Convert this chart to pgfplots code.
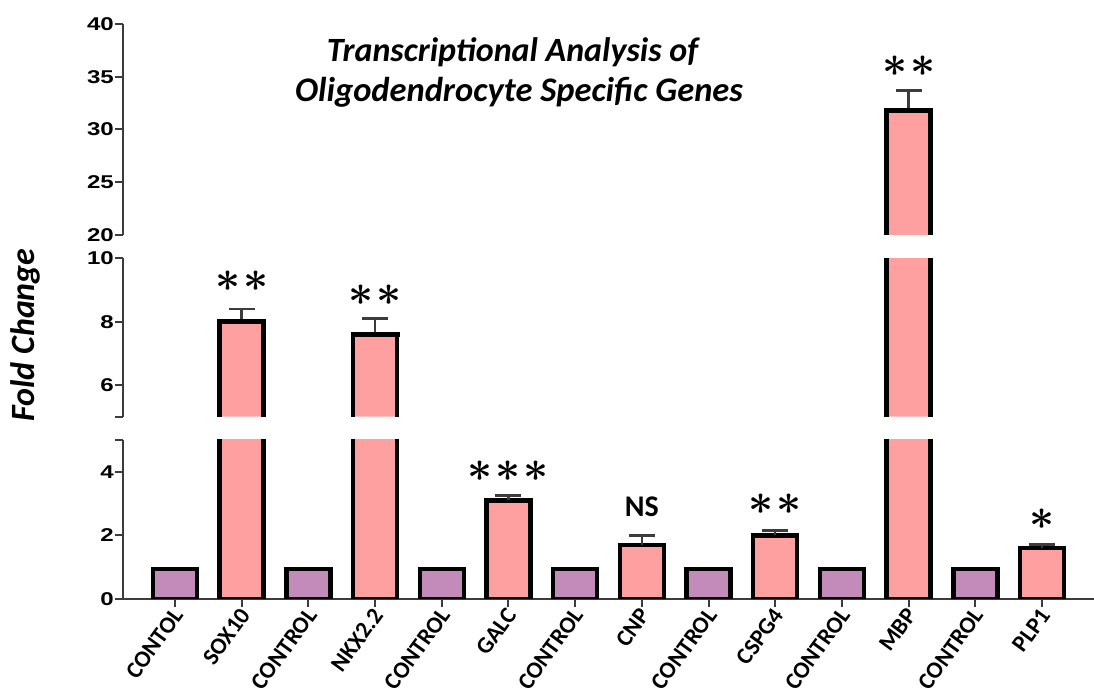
\documentclass[border=0pt]{standalone}
\usepackage{pgfplots}
\pgfplotsset{compat=1.18}
\usepackage{pgfplotstable}
\usepackage{fontspec}
\setmainfont{Carlito}
\newfontfamily\arialfont[FakeStretch=1.3]{Liberation Sans}
\definecolor{ctrl}{RGB}{195,139,186}
\definecolor{treat}{RGB}{255,160,160}
\definecolor{axgray}{RGB}{60,60,60}

\pgfplotstableread{
x val err
0 0.95 0
2 0.95 0
4 0.95 0
6 0.95 0
8 0.95 0
10 0.95 0
12 0.95 0
}\ctrldata
\pgfplotstableread{
x val err
1 8.0 0.4
3 7.6 0.5
5 3.1 0.15
7 1.7 0.3
9 2.0 0.15
11 31.8 1.9
13 1.6 0.12
}\treatdata

\pgfplotsset{
  seg/.style={
    scale only axis, width=971pt,
    xmin=-0.78, xmax=13.78,
    axis y line*=left,
    axis line style={-, axgray, line width=2pt},
    y tick style={axgray, line width=2pt},
    x tick style={axgray, line width=2pt},
    tick align=outside, major tick length=8pt,
    yticklabel style={font=\arialfont\bfseries\fontsize{18.5}{18.5}\selectfont, inner sep=1pt},
    /pgf/number format/assume math mode=true,
    anchor=south west,
  },
  fullbar/.style={ybar, bar width=44pt, bar shift=0pt, draw=black, line width=4.5pt, line join=miter},
  errs/.style={/pgfplots/error bars/y dir=plus, /pgfplots/error bars/y explicit,
    /pgfplots/error bars/error bar style={axgray, line width=2.5pt},
    /pgfplots/error bars/error mark options={axgray, line width=2.5pt, mark size=13pt, rotate=90}},
  side/.style={ycomb, black, line width=4.5pt, mark=none},
  topedge/.style={only marks, mark=-, mark size=24.5pt, mark options={black, line width=4.5pt}},
}
\newcommand{\myast}{\makebox[28pt]{\scalebox{1.75}{\fontsize{24.88}{24.88}\selectfont\boldmath$\ast$}}}

\begin{document}
\begin{tikzpicture}
\path[use as bounding box] (0,0) rectangle (1094pt,698pt);

% bottom segment 0-5
\begin{axis}[seg, at={(123pt,99pt)}, height=159pt, ymin=0, ymax=5,
  axis x line*=bottom,
  xtick={0,...,13},
  xticklabels={CONTOL,SOX10,CONTROL,NKX2.2,CONTROL,GALC,CONTROL,CNP,CONTROL,CSPG4,CONTROL,MBP,CONTROL,PLP1},
  xticklabel style={xshift=4pt, yshift=-3pt, rotate=54, anchor=east, font=\bfseries\fontsize{23.5}{23.5}\selectfont, inner sep=1pt},
  ytick={0,2,4,5}, yticklabels={0,2,4,{}},
  ]
\addplot[fullbar, fill=ctrl] table[x=x, y=val] {\ctrldata};
\addplot[fullbar, fill=treat, errs] table[x=x, y=val, y error=err] {\treatdata};
\node at (axis cs:5,4.03) {\myast\myast\myast};
\node[font=\bfseries\fontsize{30}{30}\selectfont] at (axis cs:7,2.89) {NS};
\node at (axis cs:9,2.99) {\myast\myast};
\node at (axis cs:13,2.52) {\myast};
\end{axis}

% middle segment 5-10
\begin{axis}[seg, at={(123pt,281.3pt)}, height=158.4pt, ymin=5, ymax=10,
  axis x line=none,
  ytick={5,6,8,10}, yticklabels={{},6,8,10},
  ]
\addplot[ybar, bar width=44pt, bar shift=0pt, fill=treat, draw=none,
  y filter/.expression={y>5 ? y : nan}] table[x=x, y=val] {\treatdata};
\addplot[side, xshift=-22pt, y filter/.expression={y>5 ? y : nan}] table[x=x, y=val] {\treatdata};
\addplot[side, xshift=22pt, y filter/.expression={y>5 ? y : nan}] table[x=x, y=val] {\treatdata};
\addplot[topedge, errs, y filter/.expression={(y>5 && y<10) ? y : nan}] table[x=x, y=val, y error=err] {\treatdata};
\node at (axis cs:1,9.28) {\myast\myast};
\node at (axis cs:3,8.84) {\myast\myast};
\end{axis}

% top segment 20-40
\begin{axis}[seg, at={(123pt,463pt)}, height=211pt, ymin=20, ymax=40,
  axis x line=none,
  ytick={20,25,30,35,40},
  ]
\addplot[ybar, bar width=44pt, bar shift=0pt, fill=treat, draw=none,
  y filter/.expression={y>20 ? y : nan}] table[x=x, y=val] {\treatdata};
\addplot[side, xshift=-22pt, y filter/.expression={y>20 ? y : nan}] table[x=x, y=val] {\treatdata};
\addplot[side, xshift=22pt, y filter/.expression={y>20 ? y : nan}] table[x=x, y=val] {\treatdata};
\addplot[topedge, errs, y filter/.expression={(y>20 && y<40) ? y : nan}] table[x=x, y=val, y error=err] {\treatdata};
\node at (axis cs:11,36.0) {\myast\myast};
\end{axis}

\node[anchor=base, font=\bfseries\itshape\fontsize{34}{34}\selectfont] at (512.5pt,636pt) {Transcriptional Analysis of};
\node[anchor=base, font=\bfseries\itshape\fontsize{34.5}{34.5}\selectfont] at (519pt,596pt) {Oligodendrocyte Specific Genes};
\node[rotate=90, font=\bfseries\itshape\fontsize{34}{34}\selectfont] at (25pt,363pt) {Fold Change};
\end{tikzpicture}
\end{document}
